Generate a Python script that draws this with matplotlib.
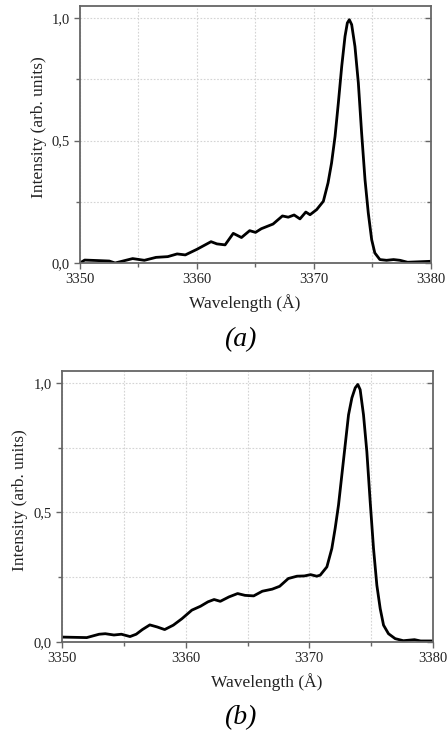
import matplotlib
matplotlib.use("Agg")
import matplotlib.pyplot as plt
from matplotlib.ticker import MultipleLocator, FixedLocator
from matplotlib.lines import TICKLEFT

plt.rcParams['font.family'] = ['Liberation Serif', 'DejaVu Serif']

# Panel (a) spectrum
wl_a = [3350.0, 3350.4, 3351.5, 3352.5, 3353.0, 3354.5, 3355.5, 3356.5, 3357.5,
        3358.3, 3359.0, 3360.0, 3361.2, 3361.7, 3362.4, 3363.1, 3363.8, 3364.5,
        3365.0, 3365.5, 3366.5, 3367.3, 3367.8, 3368.3, 3368.8, 3369.3, 3369.66,
        3370.23, 3370.8, 3371.2, 3371.5, 3371.8, 3372.08, 3372.37, 3372.65, 3372.85,
        3373.02, 3373.22, 3373.5, 3373.79, 3374.07, 3374.36, 3374.64, 3374.93, 3375.2,
        3375.63, 3376.2, 3376.8, 3377.35, 3378.0, 3380.0]
int_a = [0.000, 0.012, 0.010, 0.008, 0.000, 0.018, 0.011, 0.023, 0.026,
         0.037, 0.033, 0.056, 0.087, 0.078, 0.074, 0.121, 0.104, 0.132,
         0.125, 0.140, 0.159, 0.192, 0.187, 0.196, 0.180, 0.208, 0.197,
         0.218, 0.252, 0.327, 0.408, 0.517, 0.653, 0.803, 0.925, 0.980,
         0.993, 0.973, 0.884, 0.735, 0.531, 0.340, 0.204, 0.095, 0.041,
         0.014, 0.011, 0.014, 0.011, 0.003, 0.007]

# Panel (b) spectrum
wl_b = [3350.0, 3351.0, 3352.0, 3353.0, 3353.5, 3354.2, 3354.8, 3355.5, 3356.0,
        3356.5, 3357.1, 3357.7, 3358.3, 3359.0, 3359.7, 3360.5, 3361.2, 3361.8,
        3362.3, 3362.8, 3363.5, 3364.2, 3364.8, 3365.5, 3366.2, 3367.0, 3367.6,
        3368.3, 3369.0, 3369.6, 3370.1, 3370.6, 3370.88, 3371.42, 3371.82, 3372.09,
        3372.36, 3372.63, 3372.9, 3373.17, 3373.44, 3373.71, 3373.92, 3374.11, 3374.38,
        3374.65, 3374.92, 3375.19, 3375.46, 3375.73, 3376.0, 3376.4, 3376.94, 3377.6,
        3378.5, 3379.0, 3380.0]
int_b = [0.019, 0.018, 0.017, 0.030, 0.032, 0.027, 0.030, 0.021, 0.030,
         0.048, 0.066, 0.058, 0.048, 0.065, 0.090, 0.123, 0.138, 0.155,
         0.164, 0.157, 0.174, 0.187, 0.180, 0.178, 0.196, 0.204, 0.215,
         0.245, 0.254, 0.255, 0.260, 0.254, 0.258, 0.290, 0.361, 0.439,
         0.529, 0.645, 0.761, 0.877, 0.942, 0.981, 0.994, 0.974, 0.877,
         0.735, 0.542, 0.361, 0.219, 0.129, 0.065, 0.032, 0.013, 0.005,
         0.009, 0.004, 0.004]

x_ticks = [3350, 3360, 3370, 3380]
y_ticks = [0.0, 0.5, 1.0]
y_tick_labels = ["0,0", "0,5", "1,0"]
x_label = "Wavelength (Å)"
y_label = "Intensity (arb. units)"

W, H = 448, 738
fig = plt.figure(figsize=(W / 100, H / 100), dpi=100)

spine_col = '#666666'


def style(ax, ytop):
    ax.set_xlim(3350, 3380)
    ax.set_ylim(0, ytop)
    ax.xaxis.set_major_locator(FixedLocator(x_ticks))
    ax.xaxis.set_minor_locator(MultipleLocator(5))
    ax.yaxis.set_major_locator(FixedLocator(y_ticks))
    ax.yaxis.set_minor_locator(MultipleLocator(0.25))
    ax.set_yticklabels(y_tick_labels)
    for s in ax.spines.values():
        s.set_color(spine_col)
        s.set_linewidth(1.3)
    ax.tick_params(which='both', direction='out', color=spine_col, width=1.0,
                   labelsize=10.5, labelcolor='#222222', right=True, top=False)
    ax.tick_params(which='major', length=4)
    ax.tick_params(which='minor', length=3)
    for t in ax.yaxis.get_major_ticks() + ax.yaxis.get_minor_ticks():
        t.tick2line.set_marker(TICKLEFT)
    ax.grid(True, which='both', color='#d4d4d4', linestyle=(0, (1.5, 1.5)), linewidth=0.8)
    ax.set_axisbelow(True)


ax1 = fig.add_axes([80 / W, 1 - 263 / H, 351 / W, 257 / H])
ax1.plot(wl_a, int_a, color='black', linewidth=2.0, solid_joinstyle='round')
style(ax1, 1.049)

ax2 = fig.add_axes([62 / W, 1 - 642 / H, 371 / W, 271 / H])
ax2.plot(wl_b, int_b, color='black', linewidth=2.0, solid_joinstyle='round')
style(ax2, 1.046)

fig.text(245 / W, 1 - 303 / H, x_label, ha='center', va='center', fontsize=12.5, color='#222222')
fig.text(39 / W, 1 - 127 / H, y_label, ha='center', va='center', rotation=90, fontsize=12.5, color='#222222')
fig.text(240 / W, 1 - 340 / H, "(a)", ha='center', va='center', fontsize=20, style='italic', color='black')

fig.text(267 / W, 1 - 682 / H, x_label, ha='center', va='center', fontsize=12.5, color='#222222')
fig.text(20 / W, 1 - 500 / H, y_label, ha='center', va='center', rotation=90, fontsize=12.5, color='#222222')
fig.text(240 / W, 1 - 718 / H, "(b)", ha='center', va='center', fontsize=20, style='italic', color='black')

fig.savefig("out.png", dpi=100)
